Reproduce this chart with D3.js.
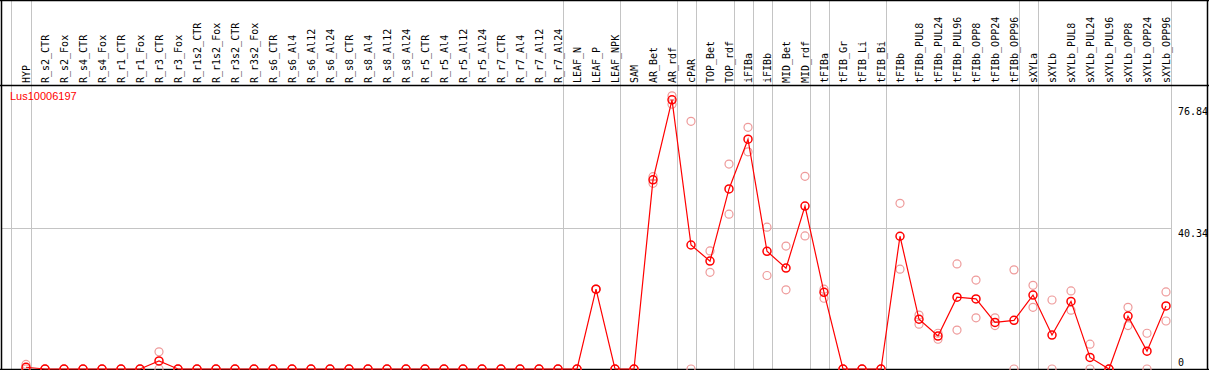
<!DOCTYPE html>
<html>
<head>
<meta charset="utf-8">
<script src="https://cdn.jsdelivr.net/npm/d3@7"></script>
<style>
  body { margin: 0; background: #fff; }
  svg { display: block; }
</style>
</head>
<body>
<div id="chart"></div>
<script>
// sample names, one column each
const categories = [
  'HYP', 'R_s2_CTR', 'R_s2_Fox', 'R_s4_CTR', 'R_s4_Fox', 'R_r1_CTR', 'R_r1_Fox',
  'R_r3_CTR', 'R_r3_Fox', 'R_r1s2_CTR', 'R_r1s2_Fox', 'R_r3s2_CTR', 'R_r3s2_Fox',
  'R_s6_CTR', 'R_s6_Al4', 'R_s6_Al12', 'R_s6_Al24', 'R_s8_CTR', 'R_s8_Al4', 'R_s8_Al12',
  'R_s8_Al24', 'R_r5_CTR', 'R_r5_Al4', 'R_r5_Al12', 'R_r5_Al24', 'R_r7_CTR', 'R_r7_Al4',
  'R_r7_Al12', 'R_r7_Al24', 'LEAF_N', 'LEAF_P', 'LEAF_NPK', 'SAM', 'AR_Bet', 'AR_rdf',
  'cPAR', 'TOP_Bet', 'TOP_rdf', 'iFIBa', 'iFIBb', 'MID_Bet', 'MID_rdf', 'tFIBa',
  'tFIB_Gr', 'tFIB_Li', 'tFIB_Bi', 'tFIBb', 'tFIBb_PUL8', 'tFIBb_PUL24', 'tFIBb_PUL96',
  'tFIBb_OPP8', 'tFIBb_OPP24', 'tFIBb_OPP96', 'sXYLa', 'sXYLb', 'sXYLb_PUL8',
  'sXYLb_PUL24', 'sXYLb_PUL96', 'sXYLb_OPP8', 'sXYLb_OPP24', 'sXYLb_OPP96'
];

// mean expression (red line)
const meanValues = [
  0.5, 0, 0, 0, 0, 0, 0, 2.3, 0, 0, 0, 0, 0,
  0, 0, 0, 0, 0, 0, 0, 0, 0, 0, 0, 0, 0, 0, 0, 0,
  0, 22.8, 0, 0, 54.0, 76.84,
  35.4, 30.8, 51.4, 65.6, 33.6, 28.8, 46.5, 21.9,
  0, 0, 0, 37.9, 14.2, 9.4, 20.5, 20.0, 13.3, 13.9,
  21.1, 9.7, 19.3, 3.3, 0, 15.1, 5.1, 18.0
];

// replicate values (pale circles)
const repHigh = [
  1.3, 0, 0, 0, 0, 0, 0, 4.9, 0, 0, 0, 0, 0,
  0, 0, 0, 0, 0, 0, 0, 0, 0, 0, 0, 0, 0, 0, 0, 0,
  0, 22.8, 0, 0, 54.9, 78.0,
  70.7, 33.7, 58.5, 69.0, 40.5, 35.1, 55.0, 22.8,
  0, 0, 0, 47.3, 15.4, 10.2, 30.0, 25.4, 14.6, 28.3,
  23.9, 19.7, 22.3, 7.1, 0, 17.6, 10.2, 22.0
];
const repLow = [
  0, 0, 0, 0, 0, 0, 0, 0, 0, 0, 0, 0, 0,
  0, 0, 0, 0, 0, 0, 0, 0, 0, 0, 0, 0, 0, 0, 0, 0,
  0, 22.8, 0, 0, 53.0, 75.6,
  0, 27.6, 44.2, 62.0, 26.7, 22.6, 38.0, 20.2,
  0, 0, 0, 28.5, 12.8, 8.5, 11.1, 14.6, 12.4, 0,
  17.6, 0, 16.8, 0, 0, 12.4, 0, 13.7
];

// last column of each group (grey separators)
const groupEnds = ['HYP', 'R_r7_Al24', 'LEAF_NPK', 'AR_rdf', 'cPAR', 'TOP_rdf', 'iFIBa',
  'iFIBb', 'MID_rdf', 'tFIBa', 'tFIB_Bi', 'tFIBb_OPP96', 'sXYLa', 'sXYLb_OPP96'];

const yTicks = [0, 40.34, 76.84];
const geneName = 'Lus10006197';

const width = 1209;
const height = 370;
const headerH = 85.5;
const mono = '"DejaVu Sans Mono", monospace';

const svg = d3.select('#chart').append('svg')
  .attr('width', width)
  .attr('height', height);

svg.append('rect').attr('width', width).attr('height', height).attr('fill', '#fff');

const x = d3.scalePoint()
  .domain(categories)
  .range([26, 1166]);

const y = d3.scaleLinear()
  .domain([0, 80.68])
  .range([369, 86.4]);

// grey separators run through the header too
const seps = [x(categories[0]) - 15].concat(groupEnds.map(c => x(c) + 5));
svg.selectAll('.sep')
  .data(seps)
  .enter().append('line')
    .attr('class', 'sep')
    .attr('x1', d => Math.round(d) + 0.5)
    .attr('x2', d => Math.round(d) + 0.5)
    .attr('y1', 0)
    .attr('y2', height)
    .attr('stroke', '#c4c4c4');

// middle grid line
svg.append('line')
  .attr('x1', 2).attr('x2', Math.round(x(categories[categories.length - 1]) + 5) + 0.5)
  .attr('y1', Math.round(y(yTicks[1])) + 0.5)
  .attr('y2', Math.round(y(yTicks[1])) + 0.5)
  .attr('stroke', '#c4c4c4');

// frame
const frame = svg.append('g').attr('stroke', '#000').attr('stroke-width', 1.5);
frame.append('line').attr('x1', 0).attr('x2', width).attr('y1', 0.5).attr('y2', 0.5);
frame.append('line').attr('x1', 0).attr('x2', width).attr('y1', headerH).attr('y2', headerH);
frame.append('line').attr('x1', 1.5).attr('x2', 1.5).attr('y1', 0).attr('y2', height);
frame.append('line').attr('x1', width - 1.5).attr('x2', width - 1.5).attr('y1', 0).attr('y2', height);
frame.append('line').attr('x1', 0).attr('x2', width).attr('y1', 369.5).attr('y2', 369.5);

// column labels, rotated
svg.selectAll('.col-label')
  .data(categories)
  .enter().append('text')
    .attr('class', 'col-label')
    .attr('transform', d => `translate(${x(d) + 0.5},83) rotate(-90)`)
    .attr('dominant-baseline', 'central')
    .attr('font-family', mono)
    .attr('font-size', 10)
    .attr('fill', '#000')
    .text(d => d);

// y value labels on the right
svg.selectAll('.y-label')
  .data(yTicks)
  .enter().append('text')
    .attr('class', 'y-label')
    .attr('x', 1178)
    .attr('y', (d, i) => i === 0 ? 366 : (i === yTicks.length - 1 ? y(d) + 15 : y(d) + 9))
    .attr('font-family', mono)
    .attr('font-size', 10)
    .attr('fill', '#000')
    .text(d => d);

svg.append('text')
  .attr('x', 10)
  .attr('y', 100)
  .attr('font-family', '"Liberation Sans", Arial, sans-serif')
  .attr('font-size', 11)
  .attr('fill', '#f00')
  .text(geneName);

// replicates
const reps = categories.flatMap((c, i) => [
  { c, v: repHigh[i] },
  { c, v: repLow[i] }
]);
svg.selectAll('.rep')
  .data(reps)
  .enter().append('circle')
    .attr('class', 'rep')
    .attr('cx', d => x(d.c))
    .attr('cy', d => y(d.v))
    .attr('r', 4)
    .attr('fill', 'none')
    .attr('stroke', '#ee9a9a')
    .attr('stroke-width', 1.2);

const means = categories.map((c, i) => ({ c, v: meanValues[i] }));

svg.append('path')
  .datum(means)
  .attr('fill', 'none')
  .attr('stroke', '#f00')
  .attr('stroke-width', 1.2)
  .attr('d', d3.line().x(d => x(d.c)).y(d => y(d.v)));

svg.selectAll('.mean')
  .data(means)
  .enter().append('circle')
    .attr('class', 'mean')
    .attr('cx', d => x(d.c))
    .attr('cy', d => y(d.v))
    .attr('r', 4)
    .attr('fill', 'none')
    .attr('stroke', '#f00')
    .attr('stroke-width', 1.5);
</script>
</body>
</html>
